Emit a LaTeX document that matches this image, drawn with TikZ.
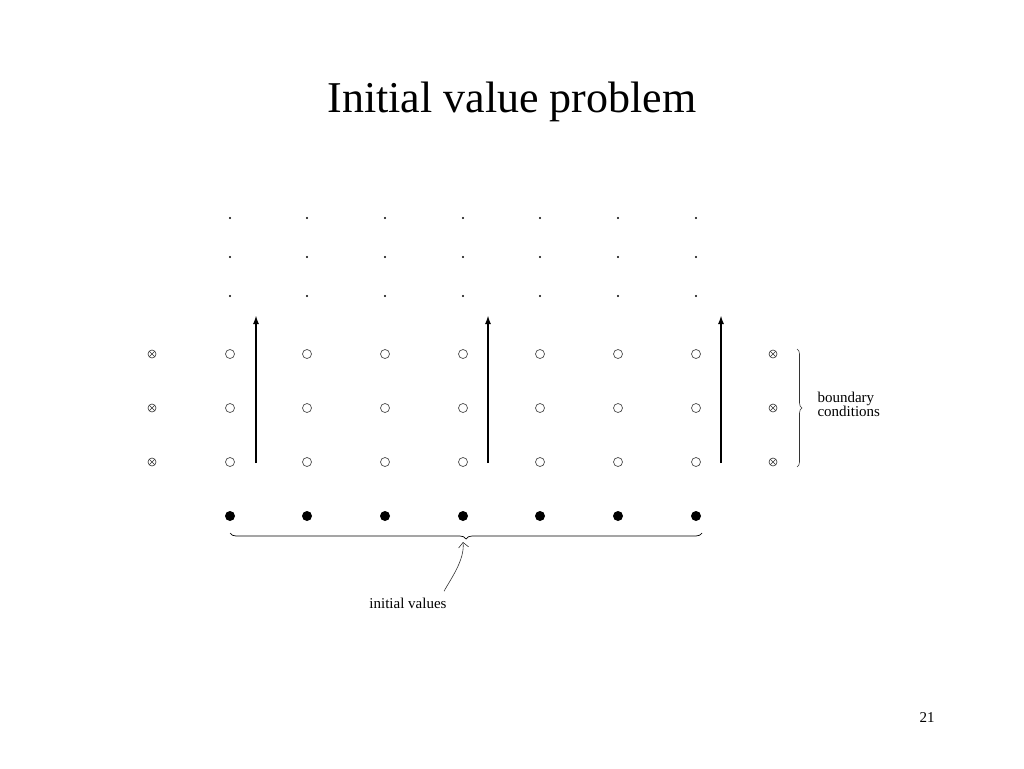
\documentclass[tikz,border=0pt]{standalone}
\usepackage{fontspec}
\setmainfont{Liberation Serif}
\usetikzlibrary{decorations.pathreplacing,arrows.meta}
\begin{document}
\begin{tikzpicture}[x=1pt,y=-1pt,
  dotpt/.style={circle,fill=black,inner sep=0pt,minimum size=2.2pt},
  open/.style={circle,draw=black!70,line width=0.7pt,inner sep=0pt,minimum size=9pt},
  filled/.style={circle,fill=black,inner sep=0pt,minimum size=10pt},
  bnd/.style={circle,draw=black!80,line width=0.6pt,inner sep=0pt,minimum size=8pt,path picture={\draw[black!80,line width=0.6pt] (path picture bounding box.north west)--(path picture bounding box.south east) (path picture bounding box.north east)--(path picture bounding box.south west);}},
  arr/.style={-{Latex[length=9pt,width=6pt]},line width=2pt},
  lbl/.style={font=\fontsize{15}{17}\selectfont,align=left}]
\useasboundingbox (0,0) rectangle (1024,768);
\node (title) at (512,102) {\fontsize{44}{50}\selectfont Initial value problem};
\foreach \x [count=\i] in {230,307,385,463,540,618,696}{
  \foreach \y [count=\j] in {218,257,296}{\node[dotpt] (d\i\j) at (\x,\y) {};}
  \foreach \y [count=\j] in {354,408,462}{\node[open] (o\i\j) at (\x,\y) {};}
  \node[filled] (f\i) at (\x,516) {};
}
\foreach \y [count=\j] in {354,408,462}{
  \node[bnd] (l\j) at (152,\y) {};
  \node[bnd] (r\j) at (773,\y) {};
}
\coordinate (a1s) at (256,463); \coordinate (a1e) at (256,315);
\coordinate (a2s) at (488,463); \coordinate (a2e) at (488,315);
\coordinate (a3s) at (721,463); \coordinate (a3e) at (721,315);
\draw[arr] (a1s)--(a1e);
\draw[arr] (a2s)--(a2e);
\draw[arr] (a3s)--(a3e);
\coordinate (bl) at (230,533); \coordinate (br) at (702,533);
\draw[decorate,decoration={brace,mirror,amplitude=6pt},line width=0.7pt] (bl)--(br);
\coordinate (rb1) at (797,349); \coordinate (rb2) at (797,467);
\draw[decorate,decoration={brace,amplitude=5pt},line width=0.6pt,black!80] (rb1)--(rb2);
\node[lbl,anchor=west] (bc) at (814,404) {boundary\\[-3pt]conditions};
\node[lbl] (iv) at (408,603) {initial values};
\coordinate (tip) at (463,542);
\draw[-{Straight Barb[length=5pt]},line width=0.6pt,black!80] (iv.north east) ++(-6,-3) .. controls (450,580) and (465,560) .. (tip);
\node (pg) at (927,718) {\fontsize{15}{17}\selectfont 21};
\end{tikzpicture}
\end{document}
